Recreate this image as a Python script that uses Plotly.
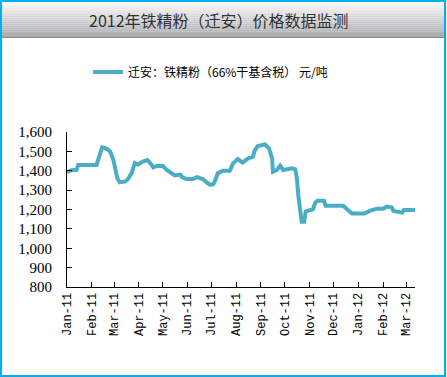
import plotly.graph_objects as go

dates = ["2011-01-01","2011-01-07","2011-01-13","2011-01-15","2011-02-07","2011-02-11","2011-02-14","2011-02-19",
         "2011-02-24","2011-02-28","2011-03-02","2011-03-05","2011-03-08","2011-03-15","2011-03-18","2011-03-23",
         "2011-03-27","2011-03-31","2011-04-06","2011-04-12","2011-04-17","2011-04-19","2011-04-24","2011-05-01",
         "2011-05-06","2011-05-12","2011-05-16","2011-05-23","2011-05-25","2011-05-31","2011-06-08","2011-06-13",
         "2011-06-20","2011-06-25","2011-06-29","2011-07-03","2011-07-05","2011-07-09","2011-07-15","2011-07-24",
         "2011-07-28","2011-08-03","2011-08-09","2011-08-16","2011-08-22","2011-08-24","2011-08-28","2011-09-06",
         "2011-09-11","2011-09-15","2011-09-16","2011-09-21","2011-09-25","2011-09-29","2011-10-10","2011-10-14",
         "2011-10-16","2011-10-18","2011-10-20","2011-10-22","2011-10-25","2011-10-27","2011-11-01","2011-11-05",
         "2011-11-08","2011-11-11","2011-11-19","2011-11-21","2011-12-13","2011-12-18","2011-12-24","2012-01-09",
         "2012-01-16","2012-01-24","2012-02-01","2012-02-06","2012-02-12","2012-02-14","2012-02-25","2012-02-27",
         "2012-03-12"]
prices = [1393,1403,1405,1430,1430,1490,1520,1515,
          1500,1458,1414,1362,1340,1345,1355,1388,
          1440,1432,1447,1455,1430,1418,1425,1425,
          1404,1385,1376,1380,1367,1357,1357,1367,
          1357,1340,1328,1330,1343,1387,1400,1400,
          1438,1460,1442,1464,1473,1503,1528,1536,
          1516,1464,1395,1404,1426,1404,1413,1408,
          1361,1266,1197,1137,1137,1189,1197,1200,
          1235,1245,1245,1220,1220,1201,1180,1180,
          1194,1204,1204,1215,1210,1192,1184,1197,
          1197]

tick_vals = ["2011-01-01","2011-02-01","2011-03-01","2011-04-01","2011-05-01","2011-06-01","2011-07-01",
             "2011-08-01","2011-09-01","2011-10-01","2011-11-01","2011-12-01","2012-01-01","2012-02-01","2012-03-01"]
tick_text = ["Jan-11","Feb-11","Mar-11","Apr-11","May-11","Jun-11","Jul-11","Aug-11","Sep-11","Oct-11",
             "Nov-11","Dec-11","Jan-12","Feb-12","Mar-12"]
y_ticks = [800,900,1000,1100,1200,1300,1400,1500,1600]
y_text = ["800","900","1,000","1,100","1,200","1,300","1,400","1,500","1,600"]

title_text = "2012年铁精粉（迁安）价格数据监测"
series_name = "迁安：铁精粉（66%干基含税） 元/吨"

fig = go.Figure()
fig.add_trace(go.Scatter(x=dates, y=prices, mode="lines", name=series_name,
                         line=dict(color="#4BACC6", width=4)))

W, H = 447, 377
L, R, T, B = 67, 415, 132, 287
PW, PH = R - L, B - T

def px(x):
    return (x - L) / PW

def py(y):
    return (B - y) / PH

shapes = []
top, bot = 2, 37
n = 18
c0 = (250, 250, 250)
c1 = (170, 170, 176)
for i in range(n):
    t = i / (n - 1)
    c = tuple(int(c0[k] + (c1[k] - c0[k]) * t) for k in range(3))
    y0 = top + (bot - top) * i / n
    y1 = top + (bot - top) * (i + 1) / n
    shapes.append(dict(type="rect", xref="paper", yref="paper", layer="below",
                       x0=px(2), x1=px(444), y0=py(y1), y1=py(y0),
                       line=dict(width=0), fillcolor="rgb(%d,%d,%d)" % c))
shapes.append(dict(type="line", xref="paper", yref="paper",
                   x0=px(2), x1=px(444), y0=py(37.5), y1=py(37.5),
                   line=dict(color="#8a8a90", width=1)))
shapes.append(dict(type="rect", xref="paper", yref="paper",
                   x0=px(1), x1=px(445), y0=py(376), y1=py(1),
                   line=dict(color="#00B0F0", width=2), fillcolor="rgba(0,0,0,0)"))

fig.update_layout(
    width=W, height=H,
    margin=dict(l=L, r=W - R, t=T, b=H - B, autoexpand=False),
    paper_bgcolor="white", plot_bgcolor="white",
    shapes=shapes,
    showlegend=True,
    legend=dict(orientation="h", x=px(88), y=py(72), xanchor="left", yanchor="middle",
                font=dict(family="Noto Sans CJK SC", size=12, color="black"),
                bgcolor="rgba(0,0,0,0)", itemwidth=30),
    annotations=[dict(text=title_text, xref="paper", yref="paper", x=px(219), y=py(20),
                      showarrow=False, xanchor="center", yanchor="middle",
                      font=dict(family="Noto Sans CJK SC", size=16, color="#333333"))],
    xaxis=dict(type="date", range=["2011-01-01", "2012-03-12"], tickmode="array",
               tickvals=tick_vals, ticktext=tick_text, tickangle=-90, automargin=False,
               ticks="inside", ticklen=5, tickcolor="black", showgrid=False, zeroline=False,
               showline=True, linecolor="black", linewidth=1,
               tickfont=dict(family="Liberation Mono", size=12, color="black")),
    yaxis=dict(range=[800, 1600], tickmode="array", tickvals=y_ticks, ticktext=y_text, automargin=False,
               ticks="inside", ticklen=5, tickcolor="black", showgrid=False, zeroline=False,
               showline=True, linecolor="black", linewidth=1, ticklabelstandoff=11,
               tickfont=dict(family="Liberation Serif", size=15, color="black")),
)

fig.write_html("out.html", config={"displayModeBar": False},
               post_script="document.body.style.margin='0';document.body.style.padding='0';")
